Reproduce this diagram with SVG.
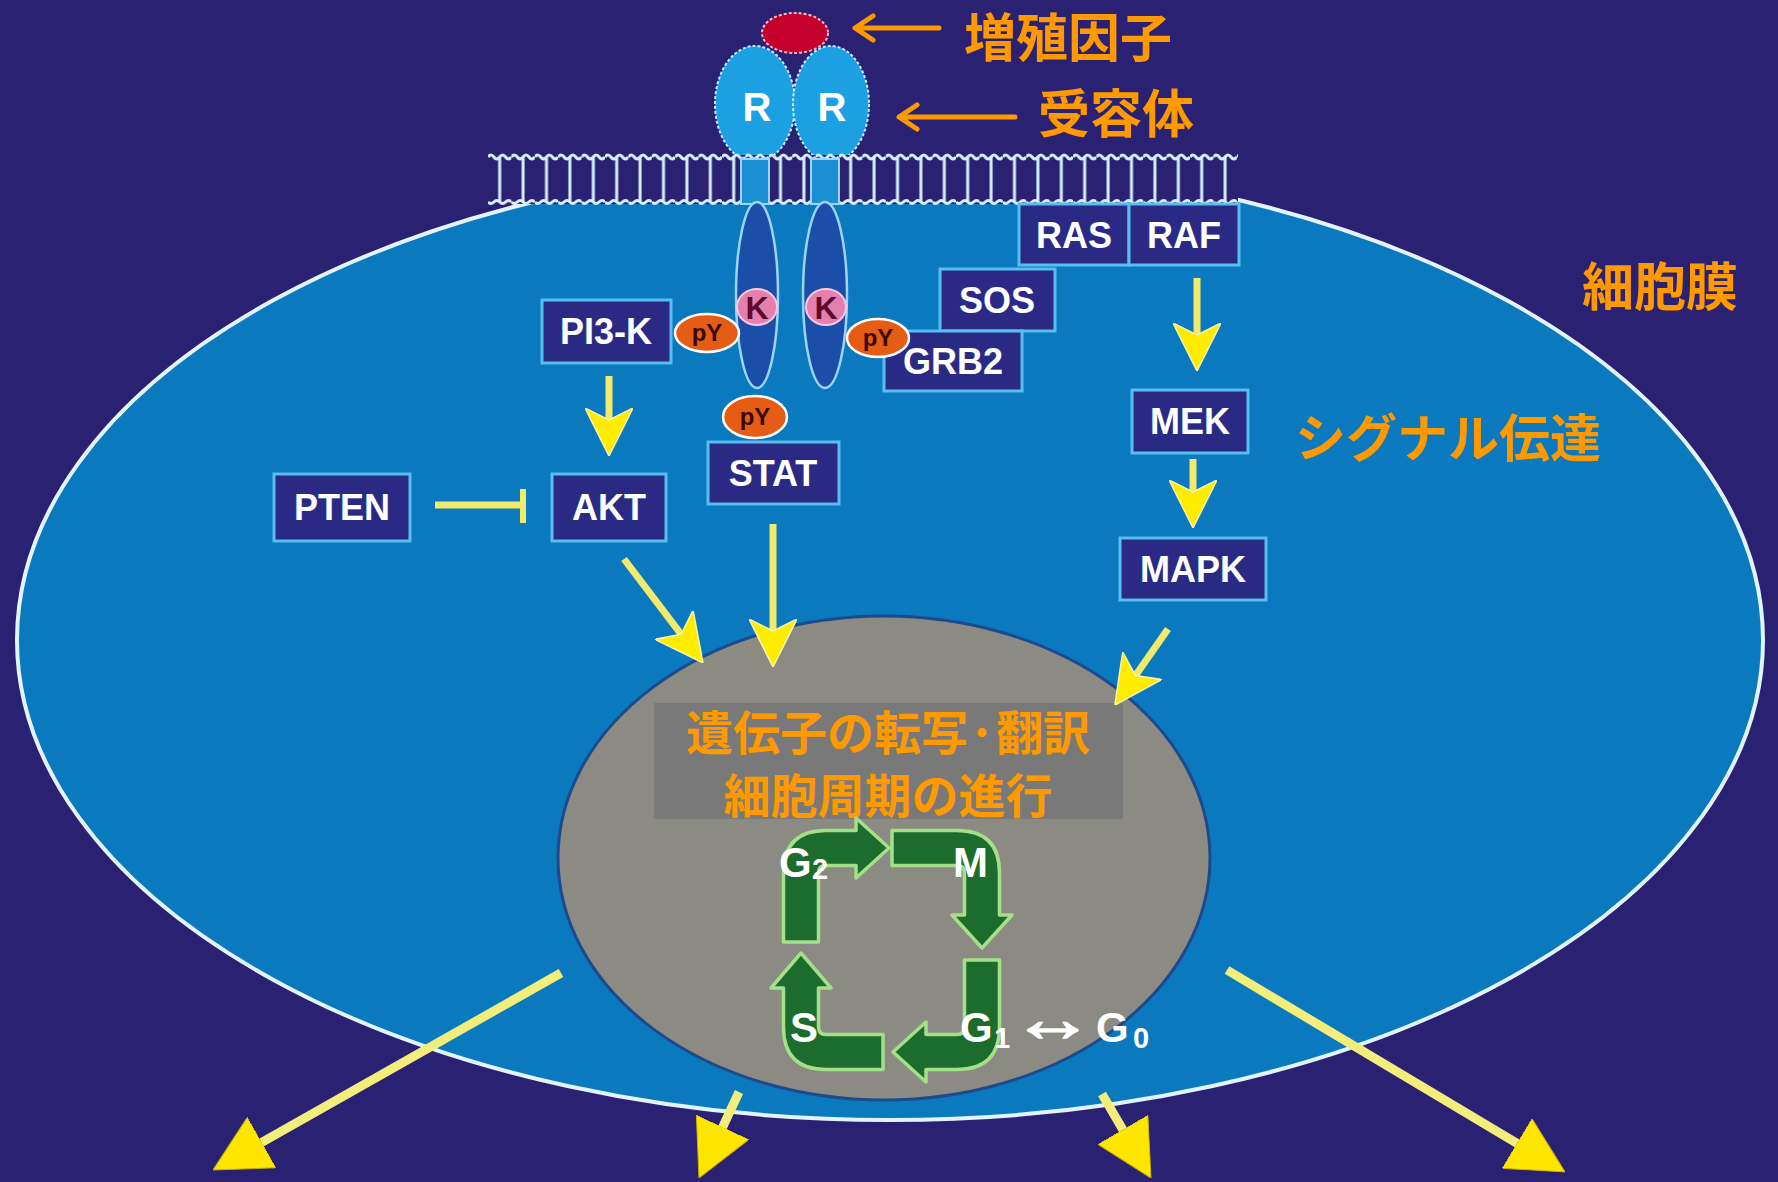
<svg xmlns="http://www.w3.org/2000/svg" width="1778" height="1182" viewBox="0 0 1778 1182">
  <defs>
    <style>
      .box{fill:#2a2a84;stroke:#58bdf0;stroke-width:3}
      .lbl{font-family:"Liberation Sans",Arial,sans-serif;font-weight:bold;font-size:36px;fill:#ffffff;text-anchor:middle}
      .jp{font-family:"Noto Sans CJK JP","Noto Sans CJK SC",sans-serif;font-weight:bold;fill:#ff9900}
      .py{fill:#e55c14;stroke:#ffffff;stroke-width:2.5}
      .pyt{font-family:"Liberation Sans",Arial,sans-serif;font-weight:bold;font-size:24px;fill:#3a0808;text-anchor:middle}
      .kb{fill:#e47fb0;stroke:#f7c8de;stroke-width:2}
      .kt{font-family:"Liberation Sans",Arial,sans-serif;font-weight:bold;font-size:32px;fill:#5c0b2a;text-anchor:middle}
      .ya{stroke:#f1ea6c;stroke-width:7;fill:none;marker-end:url(#yh)}
      .yb{stroke:#f3ee7c;stroke-width:9;fill:none;marker-end:url(#bh)}
      .oa{stroke:#ff9900;stroke-width:5;fill:none;stroke-linecap:round;stroke-linejoin:round}
      .cyc{fill:#1c6d2d;stroke:#a6df8a;stroke-width:3.5;stroke-linejoin:round}
      .cc{font-family:"Liberation Sans",Arial,sans-serif;font-weight:bold;fill:#ffffff}
      .rec{fill:#1da0e2;stroke:#c4ecff;stroke-width:2;stroke-dasharray:3 2}
      .kin{fill:#1b4ea8;stroke:#9ad4ff;stroke-width:2.5}
      .stem{fill:#1a8fd2;stroke:#9ad4ff;stroke-width:2}
      .lip{fill:none;stroke:#d6eeff;stroke-width:3}
    </style>
    <!-- notched head for the short signalling arrows -->
    <marker id="yh" markerUnits="userSpaceOnUse" viewBox="0 0 48 48" refX="12" refY="24" markerWidth="48" markerHeight="48" orient="auto">
      <path d="M0,0 L48,24 L0,48 L12,24 Z" fill="#ffec00" stroke="#f8f4b0" stroke-width="1.5"/>
    </marker>
    <!-- plain triangular head for the outward arrows -->
    <marker id="bh" markerUnits="userSpaceOnUse" viewBox="0 0 56 58" refX="6" refY="29" markerWidth="56" markerHeight="58" orient="auto">
      <path d="M0,0 L56,29 L0,58 Z" fill="#ffe600" stroke="#c9b400" stroke-width="1"/>
    </marker>
    <!-- phospholipid bilayer repeat -->
    <pattern id="lipid" patternUnits="userSpaceOnUse" x="488" y="150" width="23.4" height="60">
      <path class="lip" d="M0,7 q2.925,-4 5.85,0 t5.85,0 t5.85,0 t5.85,0"/>
      <path class="lip" d="M0,52 q2.925,3 5.85,0 t5.85,0 t5.85,0 t5.85,0"/>
      <line class="lip" x1="11.7" y1="7" x2="11.7" y2="52"/>
    </pattern>
  </defs>

  <!-- background -->
  <rect x="0" y="0" width="1778" height="1182" fill="#2b2173"/>

  <!-- cell body -->
  <g id="cell">
    <ellipse cx="890" cy="640" rx="873" ry="480" fill="#0b79bd" stroke="#e2f4ff" stroke-width="4"/>
  </g>

  <!-- receptor extracellular domains -->
  <g id="receptor">
    <ellipse class="rec" cx="755" cy="104" rx="40" ry="58"/>
    <ellipse class="rec" cx="831" cy="104" rx="38" ry="58"/>
    <text class="lbl" x="757" y="121" style="font-size:40px">R</text>
    <text class="lbl" x="832" y="121" style="font-size:40px">R</text>
  </g>

  <!-- plasma membrane -->
  <g id="membrane">
    <rect x="488" y="155" width="750" height="49" fill="#2b2173"/>
    <rect x="488" y="150" width="750" height="60" fill="url(#lipid)"/>
    <rect class="stem" x="741" y="159" width="28" height="45"/>
    <rect class="stem" x="811" y="159" width="28" height="45"/>
  </g>

  <!-- growth factor ligand -->
  <g id="growth-factor">
    <ellipse cx="795" cy="33" rx="33" ry="20" fill="#c4002c" stroke="#ffb6c6" stroke-width="2" stroke-dasharray="3 2"/>
  </g>

  <!-- kinase domains -->
  <g id="kinase">
    <ellipse class="kin" cx="757" cy="295" rx="21" ry="93"/>
    <ellipse class="kin" cx="825" cy="295" rx="22" ry="93"/>
    <ellipse class="kb" cx="757" cy="307" rx="20" ry="18"/>
    <ellipse class="kb" cx="826" cy="307" rx="20" ry="18"/>
    <text class="kt" x="757" y="319">K</text>
    <text class="kt" x="826" y="319">K</text>
  </g>

  <!-- nucleus -->
  <g id="nucleus">
    <ellipse cx="884" cy="858" rx="326" ry="242" fill="#8b8b83" stroke="#1d4a8c" stroke-width="3"/>
    <rect x="654" y="703" width="469" height="116" fill="#797979"/>
    <text class="jp" x="888" y="750" text-anchor="middle" font-size="47">遺伝子の転写·翻訳</text>
    <text class="jp" x="888" y="813" text-anchor="middle" font-size="47">細胞周期の進行</text>
  </g>

  <!-- signalling proteins -->
  <g id="PI3-K"><rect class="box" x="542" y="300" width="129" height="63"/><text class="lbl" x="606" y="344">PI3-K</text></g>
  <g id="PTEN"><rect class="box" x="274" y="474" width="136" height="67"/><text class="lbl" x="342" y="520">PTEN</text></g>
  <g id="AKT"><rect class="box" x="552" y="474" width="114" height="67"/><text class="lbl" x="609" y="520">AKT</text></g>
  <g id="STAT"><rect class="box" x="708" y="442" width="131" height="62"/><text class="lbl" x="773" y="486">STAT</text></g>
  <g id="RAS"><rect class="box" x="1019" y="204" width="110" height="61"/><text class="lbl" x="1074" y="248">RAS</text></g>
  <g id="RAF"><rect class="box" x="1129" y="204" width="110" height="61"/><text class="lbl" x="1184" y="248">RAF</text></g>
  <g id="SOS"><rect class="box" x="940" y="269" width="115" height="62"/><text class="lbl" x="997" y="313">SOS</text></g>
  <g id="GRB2"><rect class="box" x="884" y="331" width="138" height="60"/><text class="lbl" x="953" y="374">GRB2</text></g>
  <g id="MEK"><rect class="box" x="1132" y="390" width="116" height="63"/><text class="lbl" x="1190" y="434">MEK</text></g>
  <g id="MAPK"><rect class="box" x="1120" y="538" width="146" height="62"/><text class="lbl" x="1193" y="582">MAPK</text></g>

  <!-- phosphotyrosine sites -->
  <g id="pY">
    <ellipse class="py" cx="707" cy="333" rx="32" ry="19"/>
    <ellipse class="py" cx="878" cy="338" rx="31" ry="19"/>
    <ellipse class="py" cx="755" cy="417" rx="32" ry="21"/>
    <text class="pyt" x="707" y="341">pY</text>
    <text class="pyt" x="878" y="346">pY</text>
    <text class="pyt" x="755" y="425">pY</text>
  </g>

  <!-- cell cycle -->
  <g id="cell-cycle">
    <path class="cyc" d="M783.5,942 V873 Q783.5,830.5 826,830.5 H856 V818 L889,848 L856,878 V865.5 H826 Q818.5,865.5 818.5,873 V942 Z"/>
    <path class="cyc" d="M892,830.5 H957 Q999.5,830.5 999.5,873 V915 H1012 L982,948 L952,915 H964.5 V873 Q964.5,865.5 957,865.5 H892 Z"/>
    <path class="cyc" d="M964.5,960 H999.5 V1027 Q999.5,1069.5 957,1069.5 H926 V1082 L893,1052 L926,1022 V1034.5 H957 Q964.5,1034.5 964.5,1027 Z"/>
    <path class="cyc" d="M883,1034.5 V1069.5 H826 Q783.5,1069.5 783.5,1027 V988 H771 L801,953 L831,988 H818.5 V1027 Q818.5,1034.5 826,1034.5 Z"/>
    <text class="cc" font-size="42"><tspan x="779" y="877">G</tspan><tspan x="812" y="879" font-size="29">2</tspan></text>
    <text class="cc" x="953" y="877" font-size="42">M</text>
    <text class="cc" x="790" y="1042" font-size="42">S</text>
    <text class="cc" font-size="42"><tspan x="960" y="1042">G</tspan><tspan x="994" y="1048" font-size="29">1</tspan><tspan x="1011" y="1041" font-size="66" textLength="84" lengthAdjust="spacingAndGlyphs" stroke="#ffffff" stroke-width="1.5">↔</tspan><tspan x="1096" y="1042">G</tspan><tspan x="1133" y="1048" font-size="29">0</tspan></text>
  </g>

  <!-- connectors -->
  <g id="connectors">
    <path class="ya" d="M609,376 V420"/>
    <path class="ya" d="M1197,278 V335"/>
    <path class="ya" d="M1193,459 V492"/>
    <path class="ya" d="M624,559 L681.2,634.3"/>
    <path class="ya" d="M773,524 V631"/>
    <path class="ya" d="M1168,629 L1135.5,675.5"/>
    <!-- PTEN inhibits AKT -->
    <path d="M435,505 H521" stroke="#f1ea6c" stroke-width="7" fill="none"/>
    <path d="M523,489 V523" stroke="#f1ea6c" stroke-width="6" fill="none"/>
    <!-- outward effects -->
    <path class="yb" d="M561,973 L256.5,1145.4"/>
    <path class="yb" d="M739,1092 L720.1,1132.6"/>
    <path class="yb" d="M1102,1094 L1125.8,1134.8"/>
    <path class="yb" d="M1227,970 L1522.1,1146.4"/>
    <!-- label pointers -->
    <path class="oa" d="M939,28 H856 M873,16 L855,28 L873,40"/>
    <path class="oa" d="M1015,117 H900 M917,105 L899,117 L917,129"/>
  </g>

  <!-- labels -->
  <g id="labels">
    <text class="jp" x="964" y="57" font-size="52">増殖因子</text>
    <text class="jp" x="1038" y="133" font-size="52">受容体</text>
    <text class="jp" x="1582" y="306" font-size="52">細胞膜</text>
    <text class="jp" x="1295" y="457" font-size="51">シグナル伝達</text>
  </g>
</svg>
